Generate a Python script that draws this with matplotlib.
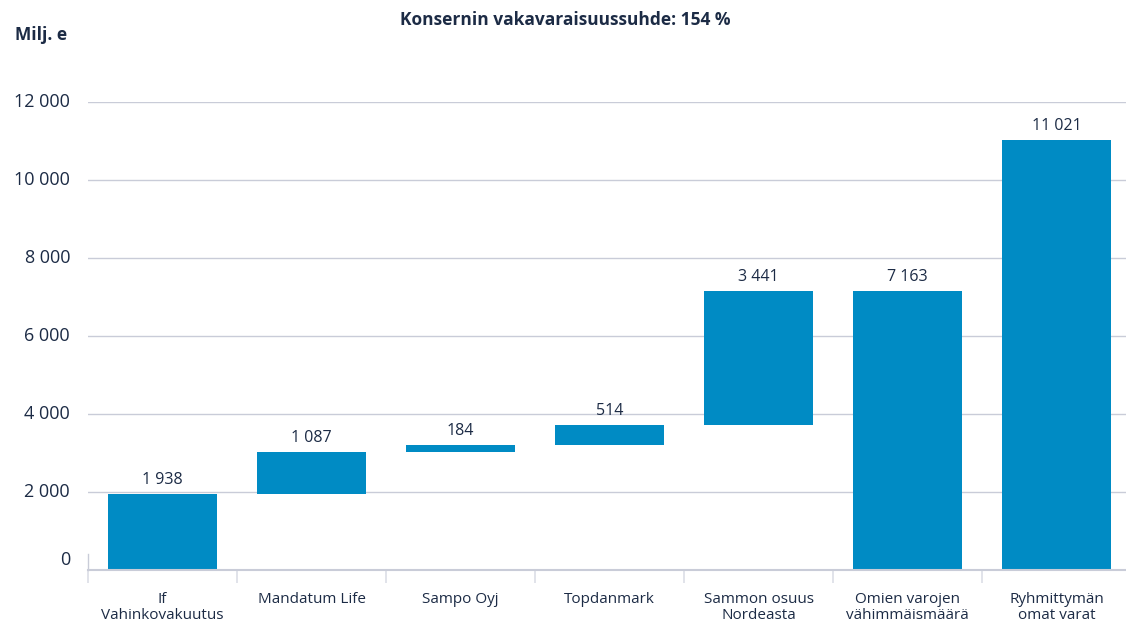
import numpy as np
import matplotlib.pyplot as plt

categories = ["If\nVahinkovakuutus", "Mandatum Life", "Sampo Oyj", "Topdanmark",
              "Sammon osuus\nNordeasta", "Omien varojen\nvähimmäismäärä",
              "Ryhmittymän\nomat varat"]
values = [1938, 1087, 184, 514, 3441, 7163, 11021]
bar_labels = ["1 938", "1 087", "184", "514", "3 441", "7 163", "11 021"]
yticks = [0, 2000, 4000, 6000, 8000, 10000, 12000]
ytick_labels = ["0", "2 000", "4 000", "6 000", "8 000", "10 000", "12 000"]

plt.rcParams['font.family'] = ['Open Sans', 'DejaVu Sans']

bar_color = '#008bc4'
text_color = '#1c2b45'
grid_color = '#c9ccd8'

# waterfall: first five stack, the last two start from zero
bottoms = list(np.concatenate([[0], np.cumsum(values[:4])])) + [0, 0]

fig = plt.figure(figsize=(11.26, 6.23), dpi=100)
ax = fig.add_axes([88/1126, 53/623, 1043/1126, 468/623])
x = np.arange(len(categories))

for yv in yticks[1:]:
    ax.axhline(yv, color=grid_color, lw=1, zorder=0)

ax.bar(x, values, bottom=bottoms, width=0.725, color=bar_color, zorder=2)

for xi, b, v, lab in zip(x, bottoms, values, bar_labels):
    ax.text(xi, b + v + 360, lab, ha='center', va='center', fontsize=11.5,
            color=text_color)

ax.set_xlim(-0.5, 6.5)
ax.set_ylim(0, 12000)

for s in ['top', 'right', 'left']:
    ax.spines[s].set_visible(False)
ax.spines['bottom'].set_color(grid_color)
ax.spines['bottom'].set_linewidth(1.5)

# category separators below the axis
ax.set_xticks(np.arange(-0.5, 6.6, 1.0))
ax.set_xticklabels([])
ax.tick_params(axis='x', length=9, color='#dcdee6', width=1.2, direction='out')
ax.set_xticks(x, minor=True)
ax.set_xticklabels(categories, minor=True, fontsize=11, color=text_color,
                   linespacing=1.05)
ax.tick_params(axis='x', which='minor', length=0, pad=16)

ax.set_yticks([])
for yv, lab in zip(yticks, ytick_labels):
    off = 250 if yv == 0 else 0
    ax.text(-0.62, yv + off, lab, ha='right', va='center', fontsize=13,
            color=text_color, transform=ax.transData, clip_on=False)

ax.plot([-0.5, -0.5], [0, 400], color=grid_color, lw=1, clip_on=False)

fig.text(15/1126, 1 - 35/623, "Milj. e", fontsize=12.5, fontweight='bold',
         color=text_color, ha='left', va='center')
fig.text(565/1126, 1 - 20/623, "Konsernin vakavaraisuussuhde: 154 %",
         fontsize=12.5, fontweight='bold', color=text_color, ha='center',
         va='center')

fig.savefig('out.png', dpi=100)
